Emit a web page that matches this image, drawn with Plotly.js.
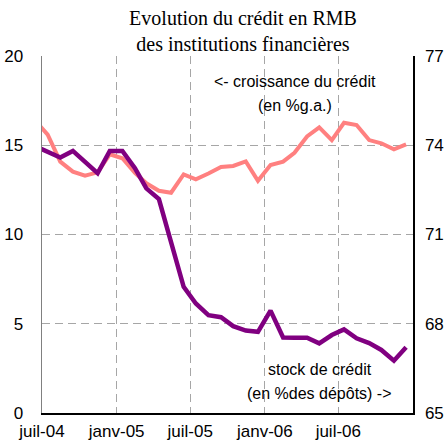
<!DOCTYPE html>
<html><head><meta charset="utf-8">
<script src="https://cdn.plot.ly/plotly-3.0.1.min.js"></script>
<style>html,body{margin:0;padding:0;background:#fff}#chart{width:444px;height:443px}</style>
</head><body><div id="chart"></div>
<script>
// Monthly observations (mid-month); the June 2004 point lies just left of the axis and is clipped
const months = ['2004-06-15','2004-07-15','2004-08-15','2004-09-15','2004-10-15','2004-11-15','2004-12-15',
  '2005-01-15','2005-02-15','2005-03-15','2005-04-15','2005-05-15','2005-06-15','2005-07-15','2005-08-15',
  '2005-09-15','2005-10-15','2005-11-15','2005-12-15','2006-01-15','2006-02-15','2006-03-15','2006-04-15',
  '2006-05-15','2006-06-15','2006-07-15','2006-08-15','2006-09-15','2006-10-15','2006-11-15','2006-12-15'];
// croissance du crédit (en % g.a.) - left axis
const croissanceCredit = [16.35,15.6,14.08,13.52,13.29,13.48,14.49,14.27,13.46,12.87,12.45,12.34,13.37,13.09,13.42,
  13.78,13.84,14.09,13.01,13.89,14.08,14.58,15.49,16.0,15.29,16.26,16.13,15.29,15.11,14.77,15.05];
// stock de crédit (en % des dépôts) - right axis
const stockCredit = [73.96,73.78,73.59,73.81,73.45,73.06,73.81,73.81,73.23,72.55,72.19,70.78,69.24,68.68,68.29,
  68.22,67.92,67.77,67.73,68.44,67.54,67.53,67.53,67.34,67.62,67.81,67.51,67.35,67.12,66.76,67.21];
const xTickVals = ['2004-07-01','2005-01-01','2005-07-01','2006-01-01','2006-07-01'];
const xTickText = ['juil-04','janv-05','juil-05','janv-06','juil-06'];
const yLeftTicks = [0,5,10,15,20];
const yRightTicks = [65,68,71,74,77];

const traces = [
  {x: months, y: croissanceCredit, type: 'scatter', mode: 'lines', yaxis: 'y',
   line: {color: '#FF8080', width: 4}, name: 'croissance du crédit'},
  {x: months, y: stockCredit, type: 'scatter', mode: 'lines', yaxis: 'y2',
   line: {color: '#800080', width: 4.5}, name: 'stock de crédit'}
];

const tickFont = {family: 'Liberation Sans, Arial, sans-serif', size: 17, color: '#000'};
const annFont = {family: 'Liberation Sans, Arial, sans-serif', size: 16, color: '#000'};
const gridColor = '#a6a6a6';

const layout = {
  width: 444, height: 443,
  margin: {l: 42, r: 31, t: 56, b: 30},
  paper_bgcolor: '#fff', plot_bgcolor: '#fff',
  showlegend: false,
  title: {
    text: 'Evolution du crédit en RMB<br>des institutions financières',
    font: {family: 'Liberation Serif, Times New Roman, serif', size: 20, color: '#000'},
    xref: 'container', x: 243/444, xanchor: 'center',
    yref: 'container', y: 1 - 25/443, yanchor: 'middle'
  },
  xaxis: {
    type: 'date', range: ['2004-07-01', '2007-01-01'],
    tickmode: 'array', tickvals: xTickVals, ticktext: xTickText,
    tickfont: tickFont, ticks: '', ticklabelstandoff: 2,
    showgrid: true, gridcolor: gridColor, gridwidth: 1, griddash: '8px,5px',
    showline: true, linecolor: '#000', linewidth: 1.5, zeroline: false
  },
  yaxis: {
    range: [0, 20], tickmode: 'array', tickvals: yLeftTicks,
    tickfont: tickFont, ticks: '', ticklabelstandoff: 14,
    showgrid: true, gridcolor: gridColor, gridwidth: 1, griddash: '8px,5px',
    showline: true, linecolor: '#808080', linewidth: 1.5, zeroline: false
  },
  yaxis2: {
    range: [65, 77], tickmode: 'array', tickvals: yRightTicks,
    overlaying: 'y', side: 'right',
    tickfont: tickFont, ticks: '', ticklabelstandoff: 7,
    showgrid: false, showline: true, linecolor: '#000', linewidth: 1.5, zeroline: false
  },
  annotations: [
    {xref: 'paper', yref: 'paper', x: (295-42)/371, y: (413-81.7)/357, text: '&lt;- croissance du crédit',
     showarrow: false, font: annFont, xanchor: 'center', yanchor: 'middle'},
    {xref: 'paper', yref: 'paper', x: (295-42)/371, y: (413-106)/357, text: '(en %g.a.)',
     showarrow: false, font: annFont, xanchor: 'center', yanchor: 'middle'},
    {xref: 'paper', yref: 'paper', x: (319.5-42)/371, y: (413-369.3)/357, text: 'stock de crédit',
     showarrow: false, font: annFont, xanchor: 'center', yanchor: 'middle'},
    {xref: 'paper', yref: 'paper', x: (319.5-42)/371, y: (413-393.3)/357, text: '(en %des dépôts) ->',
     showarrow: false, font: annFont, xanchor: 'center', yanchor: 'middle'}
  ]
};

Plotly.newPlot('chart', traces, layout, {staticPlot: true, displayModeBar: false});
</script>
</body></html>
